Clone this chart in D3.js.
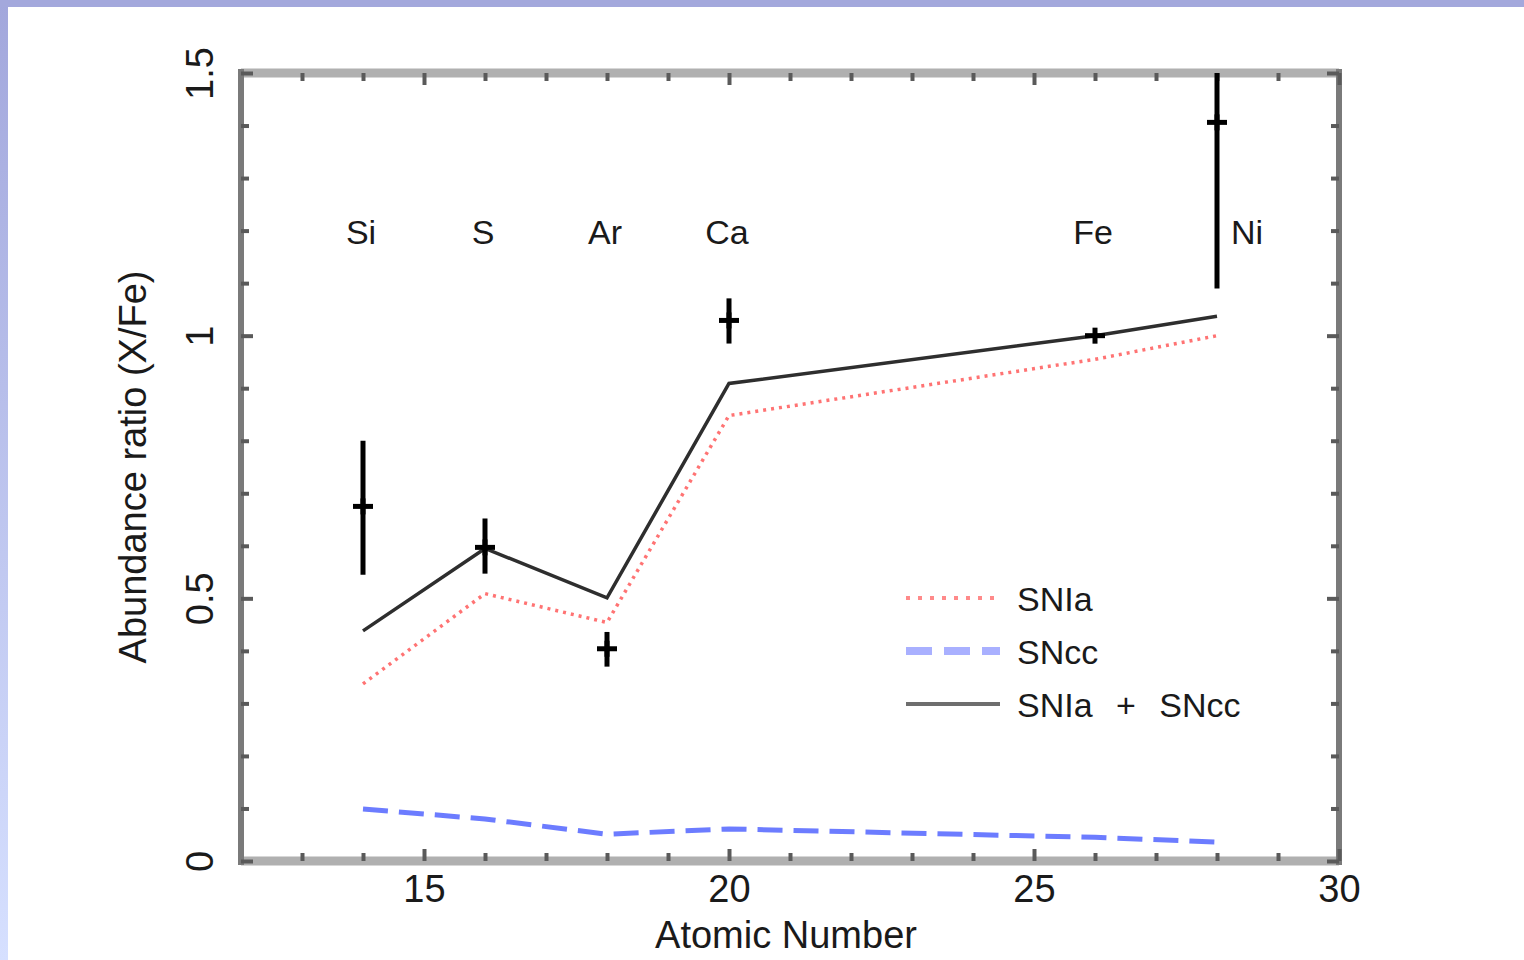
<!DOCTYPE html>
<html>
<head>
<meta charset="utf-8">
<script src="https://cdn.jsdelivr.net/npm/d3@7"></script>
<style>
  html, body { margin: 0; padding: 0; background: #fff; }
  svg { display: block; }
  text { font-family: "Liberation Sans", Arial, Helvetica, sans-serif; fill: #1a1a1a; }
</style>
</head>
<body>
<svg id="chart" width="1524" height="960"></svg>
<script>
// Elements and their atomic numbers
const elements = ["Si", "S", "Ar", "Ca", "Fe", "Ni"];
const atomicNumbers = [14, 16, 18, 20, 26, 28];

// Measured abundance ratios (X/Fe) with error ranges
const observed = [0.675, 0.597, 0.404, 1.029, 1.0, 1.406];
const observedLow = [0.545, 0.547, 0.370, 0.985, 1.0, 1.090];
const observedHigh = [0.800, 0.652, 0.436, 1.071, 1.0, 1.720];

// Model contributions
const snIa = [0.337, 0.509, 0.454, 0.848, 0.955, 1.000];
const snCC = [0.099, 0.080, 0.051, 0.061, 0.045, 0.036];
const combined = [0.438, 0.595, 0.501, 0.909, 1.000, 1.037];

// Axis ticks
const xMajorTicks = [15, 20, 25, 30];
const xMinorTicks = [13, 14, 16, 17, 18, 19, 21, 22, 23, 24, 26, 27, 28, 29];
const yMajorTicks = [0, 0.5, 1, 1.5];
const yMinorTicks = [0.1, 0.2, 0.3, 0.4, 0.6, 0.7, 0.8, 0.9, 1.1, 1.2, 1.3, 1.4];
const yTickLabels = ["0", "0.5", "1", "1.5"];

// Legend entries
const legendLabels = ["SNIa", "SNcc", "SNIa + SNcc"];

const svg = d3.select("#chart");

// Page border band
const defs = svg.append("defs");
const grad = defs.append("linearGradient").attr("id", "edge").attr("x1", 0).attr("y1", 0).attr("x2", 0).attr("y2", 1);
grad.append("stop").attr("offset", "0%").attr("stop-color", "#a2a7dc");
grad.append("stop").attr("offset", "100%").attr("stop-color", "#d6e0ff");
svg.append("rect").attr("x", 0).attr("y", 0).attr("width", 8).attr("height", 960).attr("fill", "url(#edge)");
svg.append("rect").attr("x", 0).attr("y", 0).attr("width", 1524).attr("height", 7).attr("fill", "#a3a8dc");

const pLeft = 241, pRight = 1339, pTop = 73, pBottom = 861;
const x = d3.scaleLinear().domain([12, 30]).range([pLeft, pRight]);
const y = d3.scaleLinear().domain([0, 1.5]).range([pBottom, pTop]);

defs.append("clipPath").attr("id", "plot-clip")
  .append("rect").attr("x", pLeft).attr("y", pTop).attr("width", pRight - pLeft).attr("height", pBottom - pTop);

// Frame
svg.append("line").attr("x1", pLeft).attr("x2", pRight).attr("y1", pTop).attr("y2", pTop).attr("stroke", "#b0b0b0").attr("stroke-width", 9);
svg.append("line").attr("x1", pLeft).attr("x2", pRight).attr("y1", pBottom).attr("y2", pBottom).attr("stroke", "#b0b0b0").attr("stroke-width", 9);
svg.append("line").attr("x1", pLeft).attr("x2", pLeft).attr("y1", pTop - 4).attr("y2", pBottom + 4).attr("stroke", "#7a7a7a").attr("stroke-width", 6);
svg.append("line").attr("x1", pRight).attr("x2", pRight).attr("y1", pTop - 4).attr("y2", pBottom + 4).attr("stroke", "#7a7a7a").attr("stroke-width", 6);

function styleAxis(g) {
  g.select(".domain").remove();
  g.selectAll(".tick line").attr("stroke", "#5a5a5a").attr("stroke-width", 4);
}

// Inward ticks on all four sides
svg.append("g").attr("transform", `translate(0,${pBottom})`)
  .call(d3.axisBottom(x).tickValues(xMinorTicks).tickSize(-8).tickFormat(""))
  .call(styleAxis);
const xLab = svg.append("g").attr("transform", `translate(0,${pBottom})`)
  .call(d3.axisBottom(x).tickValues(xMajorTicks).tickSizeInner(-12).tickSizeOuter(0).tickPadding(14).tickFormat(d3.format("d")))
  .call(styleAxis);
xLab.selectAll("text").attr("font-size", 38).attr("fill", "#1a1a1a");

svg.append("g").attr("transform", `translate(0,${pTop})`)
  .call(d3.axisTop(x).tickValues(xMinorTicks).tickSize(-8).tickFormat(""))
  .call(styleAxis);
svg.append("g").attr("transform", `translate(0,${pTop})`)
  .call(d3.axisTop(x).tickValues(xMajorTicks).tickSize(-12).tickFormat(""))
  .call(styleAxis);

svg.append("g").attr("transform", `translate(${pLeft},0)`)
  .call(d3.axisLeft(y).tickValues(yMinorTicks).tickSize(-8).tickFormat(""))
  .call(styleAxis);
const yLab = svg.append("g").attr("transform", `translate(${pLeft},0)`)
  .call(d3.axisLeft(y).tickValues(yMajorTicks).tickSizeInner(-12).tickSizeOuter(0)
    .tickFormat((d, i) => yTickLabels[i]))
  .call(styleAxis);
yLab.selectAll("text")
  .attr("transform", "rotate(-90)")
  .attr("x", 0).attr("y", -28).attr("dy", 0)
  .attr("text-anchor", "middle")
  .attr("font-size", 38).attr("fill", "#1a1a1a");

svg.append("g").attr("transform", `translate(${pRight},0)`)
  .call(d3.axisRight(y).tickValues(yMinorTicks).tickSize(-8).tickFormat(""))
  .call(styleAxis);
svg.append("g").attr("transform", `translate(${pRight},0)`)
  .call(d3.axisRight(y).tickValues(yMajorTicks).tickSize(-12).tickFormat(""))
  .call(styleAxis);

// Axis titles
svg.append("text").attr("x", 786).attr("y", 948).attr("text-anchor", "middle")
  .attr("font-size", 38).text("Atomic Number");
svg.append("text").attr("transform", `translate(146,${467}) rotate(-90)`).attr("text-anchor", "middle")
  .attr("font-size", 38).text("Abundance ratio (X/Fe)");

// Element labels along the top of the plot
svg.append("g").selectAll("text").data(elements).join("text")
  .attr("x", (d, i) => i === elements.length - 1 ? x(atomicNumbers[i]) + 14 : x(atomicNumbers[i]) - 2)
  .attr("y", 244)
  .attr("text-anchor", (d, i) => i === elements.length - 1 ? "start" : "middle")
  .attr("font-size", 34)
  .text(d => d);

const plot = svg.append("g").attr("clip-path", "url(#plot-clip)");

const lineFor = vals => d3.line()
  .x((d, i) => x(atomicNumbers[i]))
  .y(d => y(d))(vals);

const styles = [
  { stroke: "#ff5a5a", width: 3.5, dash: "3 5", opacity: 0.85 },
  { stroke: "#5c6eff", width: 5, dash: "25 11", opacity: 0.9 },
  { stroke: "#2e2e2e", width: 3.5, dash: null, opacity: 1 }
];
const seriesValues = [snIa, snCC, combined];

seriesValues.forEach((vals, k) => {
  plot.append("path")
    .attr("d", lineFor(vals))
    .attr("fill", "none")
    .attr("stroke", styles[k].stroke)
    .attr("stroke-width", styles[k].width)
    .attr("stroke-dasharray", styles[k].dash)
    .attr("stroke-opacity", styles[k].opacity);
});

// Measured points with vertical error bars
const pts = plot.append("g").selectAll("g").data(observed).join("g");
pts.append("line")
  .attr("x1", (d, i) => x(atomicNumbers[i])).attr("x2", (d, i) => x(atomicNumbers[i]))
  .attr("y1", (d, i) => y(observedHigh[i])).attr("y2", (d, i) => y(observedLow[i]))
  .attr("stroke", "#000").attr("stroke-width", 5);
pts.append("line")
  .attr("x1", (d, i) => x(atomicNumbers[i]) - 10).attr("x2", (d, i) => x(atomicNumbers[i]) + 10)
  .attr("y1", d => y(d)).attr("y2", d => y(d))
  .attr("stroke", "#000").attr("stroke-width", 5);
pts.append("line")
  .attr("x1", (d, i) => x(atomicNumbers[i])).attr("x2", (d, i) => x(atomicNumbers[i]))
  .attr("y1", d => y(d) - 8).attr("y2", d => y(d) + 8)
  .attr("stroke", "#000").attr("stroke-width", 5);

// Legend
const legend = svg.append("g");
const legendY = [598, 651, 704];
const legendText = ["#ff3a2a", "#2238ff", "#2a2a2a"];
const legendLine = [
  { stroke: "#ff8a8a", width: 4, dash: "4 8" },
  { stroke: "#a9b0ff", width: 8, dash: "26 12" },
  { stroke: "#6e6e6e", width: 4, dash: null }
];
legendLabels.forEach((lab, k) => {
  legend.append("line")
    .attr("x1", 906).attr("x2", 1000).attr("y1", legendY[k]).attr("y2", legendY[k])
    .attr("stroke", legendLine[k].stroke).attr("stroke-width", legendLine[k].width)
    .attr("stroke-dasharray", legendLine[k].dash);
  legend.append("text")
    .attr("x", 1017).attr("y", legendY[k] + 13)
    .attr("font-size", 34)
    .attr("fill", legendText[k])
    .attr("word-spacing", 14)
    .text(lab);
});
</script>
</body>
</html>
